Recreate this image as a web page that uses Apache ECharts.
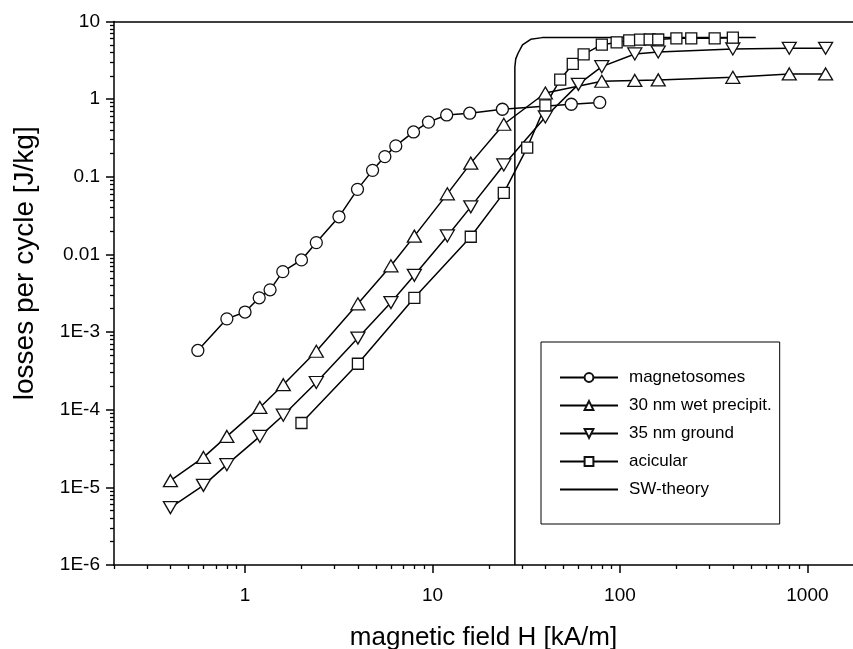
<!DOCTYPE html>
<html>
<head>
<meta charset="utf-8">
<script src="https://cdn.jsdelivr.net/npm/echarts@6/dist/echarts.min.js"></script>
<style>
  html, body { margin: 0; padding: 0; background: #fff; }
  #chart { width: 853px; height: 649px; }
</style>
</head>
<body>
<div id="chart"></div>
<script>
// magnetic field H [kA/m] / losses per cycle [J/kg]
var magH = [0.56, 0.8, 1.0, 1.19, 1.36, 1.59, 2.0, 2.4, 3.17, 3.98, 4.79, 5.57, 6.37, 7.92, 9.52, 11.9, 15.8, 23.6, 55, 78];
var magLoss = [5.8e-4, 1.48e-3, 1.81e-3, 2.76e-3, 3.5e-3, 6.0e-3, 8.5e-3, 0.0142, 0.0305, 0.0689, 0.121, 0.182, 0.25, 0.378, 0.506, 0.626, 0.659, 0.741, 0.86, 0.907];

var wetH = [0.4, 0.6, 0.8, 1.2, 1.6, 2.4, 4, 6, 8, 12, 16, 24, 40, 80, 120, 160, 400, 800, 1250];
var wetLoss = [1.22e-5, 2.43e-5, 4.53e-5, 1.07e-4, 2.1e-4, 5.66e-4, 2.31e-3, 7.13e-3, 0.0172, 0.0603, 0.15, 0.475, 1.2, 1.7, 1.74, 1.77, 1.91, 2.11, 2.11];

var groundH = [0.4, 0.6, 0.8, 1.2, 1.6, 2.4, 4, 6, 8, 12, 16, 24, 40, 60, 80, 120, 160, 400, 800, 1250];
var groundLoss = [5.48e-6, 1.06e-5, 1.96e-5, 4.53e-5, 8.5e-5, 2.24e-4, 8.37e-4, 2.4e-3, 5.38e-3, 0.0173, 0.041, 0.142, 0.59, 1.55, 2.62, 3.82, 4.05, 4.43, 4.52, 4.52];

var acicH = [2, 4, 8, 16, 24, 32, 40, 48, 56, 64, 80, 96, 112, 128, 144, 160, 200, 240, 320, 400];
var acicLoss = [6.74e-5, 3.91e-4, 2.76e-3, 0.0169, 0.062, 0.238, 0.83, 1.78, 2.84, 3.78, 5.03, 5.37, 5.73, 5.83, 5.86, 5.86, 6.08, 6.08, 6.08, 6.19];

var swH = [27.5, 27.5, 27.8, 28.6, 30.2, 33.4, 38.5, 530];
var swLoss = [1e-6, 2.6, 3.3, 3.9, 5.0, 5.9, 6.2, 6.2];

// axis ticks
var xMajor = [1, 10, 100, 1000];
var xMinor = [0.2, 0.3, 0.4, 0.5, 0.6, 0.7, 0.8, 0.9,
  2, 3, 4, 5, 6, 7, 8, 9,
  20, 30, 40, 50, 60, 70, 80, 90,
  200, 300, 400, 500, 600, 700, 800, 900];
var yMajor = [1e-6, 1e-5, 1e-4, 1e-3, 0.01, 0.1, 1, 10];
var yLabels = ['1E-6', '1E-5', '1E-4', '1E-3', '0.01', '0.1', '1', '10'];
var yMinor = [];
for (var d = 0; d < yMajor.length - 1; d++) {
  for (var m = 2; m <= 9; m++) {
    yMinor.push(+(yMajor[d] * m).toPrecision(3));
  }
}

function pairs(xs, ys) {
  return xs.map(function (x, i) { return [x, ys[i]]; });
}

var font = 'Liberation Sans';
var X_MIN = 0.2, X_MAX = 1750, Y_MIN = 1e-6, Y_MAX = 10;
var gridBox = { left: 114, top: 21.5, right: 0, bottom: 84, outerBoundsMode: 'none', containLabel: false };

function markerSeries(name, xs, ys, symbol, size, rotate) {
  return {
    name: name,
    type: 'line',
    data: pairs(xs, ys),
    symbol: symbol,
    symbolSize: size,
    symbolRotate: rotate || 0,
    showAllSymbol: true,
    lineStyle: { color: '#000', width: 1.5 },
    itemStyle: { color: '#fff', borderColor: '#111', borderWidth: 1.3 },
    emphasis: { disabled: true }
  };
}

var chart = echarts.init(document.getElementById('chart'), null, { renderer: 'canvas' });

var option = {
  animation: false,
  backgroundColor: '#fff',
  grid: [
    Object.assign({}, gridBox),
    Object.assign({}, gridBox)
  ],
  xAxis: [{
    // main bottom axis
    type: 'log', gridIndex: 0, position: 'bottom',
    min: X_MIN, max: X_MAX,
    name: 'magnetic field H [kA/m]',
    nameLocation: 'middle', nameGap: 60,
    nameTextStyle: { fontFamily: font, fontSize: 26, color: '#000' },
    axisLine: { lineStyle: { color: '#000', width: 1.5 } },
    axisTick: { customValues: xMajor, length: 8, lineStyle: { color: '#000', width: 1.5 } },
    axisLabel: {
      customValues: xMajor, margin: 21, fontFamily: font, fontSize: 19, color: '#000',
      formatter: function (v) { return String(Math.round(v)); }
    },
    splitLine: { show: false }
  }, {
    // top frame line
    type: 'log', gridIndex: 0, position: 'top',
    min: X_MIN, max: X_MAX,
    axisLine: { lineStyle: { color: '#000', width: 1.5 } },
    axisTick: { show: false },
    axisLabel: { show: false },
    splitLine: { show: false }
  }, {
    // minor ticks
    type: 'log', gridIndex: 1, position: 'bottom',
    min: X_MIN, max: X_MAX,
    axisLine: { show: false },
    axisTick: { customValues: xMinor, length: 4, lineStyle: { color: '#000', width: 1.3 } },
    axisLabel: { show: false },
    splitLine: { show: false }
  }],
  yAxis: [{
    type: 'log', gridIndex: 0, position: 'left',
    min: Y_MIN, max: Y_MAX,
    name: 'losses per cycle [J/kg]',
    nameLocation: 'middle', nameGap: 75,
    nameTextStyle: { fontFamily: font, fontSize: 28, color: '#000', padding: [0, 0, 0, 60] },
    axisLine: { lineStyle: { color: '#000', width: 1.5 } },
    axisTick: { customValues: yMajor, length: 8, lineStyle: { color: '#000', width: 1.5 } },
    axisLabel: {
      customValues: yMajor, margin: 14, fontFamily: font, fontSize: 19, color: '#000',
      formatter: function (v) {
        for (var i = 0; i < yMajor.length; i++) {
          if (Math.abs(Math.log10(v) - Math.log10(yMajor[i])) < 1e-6) return yLabels[i];
        }
        return '';
      }
    },
    splitLine: { show: false }
  }, {
    type: 'log', gridIndex: 1, position: 'left',
    min: Y_MIN, max: Y_MAX,
    axisLine: { show: false },
    axisTick: { customValues: yMinor, length: 4, lineStyle: { color: '#000', width: 1.3 } },
    axisLabel: { show: false },
    splitLine: { show: false }
  }],
  legend: {
    orient: 'vertical',
    left: 541, top: 342,
    padding: [27, 8, 26, 18],
    itemWidth: 58, itemHeight: 11, itemGap: 11,
    borderColor: '#000', borderWidth: 1,
    backgroundColor: '#fff',
    textStyle: { fontFamily: font, fontSize: 17, color: '#000', padding: [0, 0, 0, 6] },
    data: ['magnetosomes', '30 nm wet precipit.', '35 nm ground', 'acicular',
      { name: 'SW-theory', itemStyle: { opacity: 0 } }]
  },
  series: [
    {
      name: 'SW-theory',
      type: 'line',
      data: pairs(swH, swLoss),
      symbol: 'none',
      lineStyle: { color: '#000', width: 1.5 },
      itemStyle: { color: '#000' },
      emphasis: { disabled: true }
    },
    markerSeries('magnetosomes', magH, magLoss, 'circle', 12),
    markerSeries('30 nm wet precipit.', wetH, wetLoss, 'triangle', [14, 12]),
    markerSeries('35 nm ground', groundH, groundLoss, 'triangle', [14, 12], 180),
    markerSeries('acicular', acicH, acicLoss, 'rect', 11)
  ]
};

chart.setOption(option);
</script>
</body>
</html>
